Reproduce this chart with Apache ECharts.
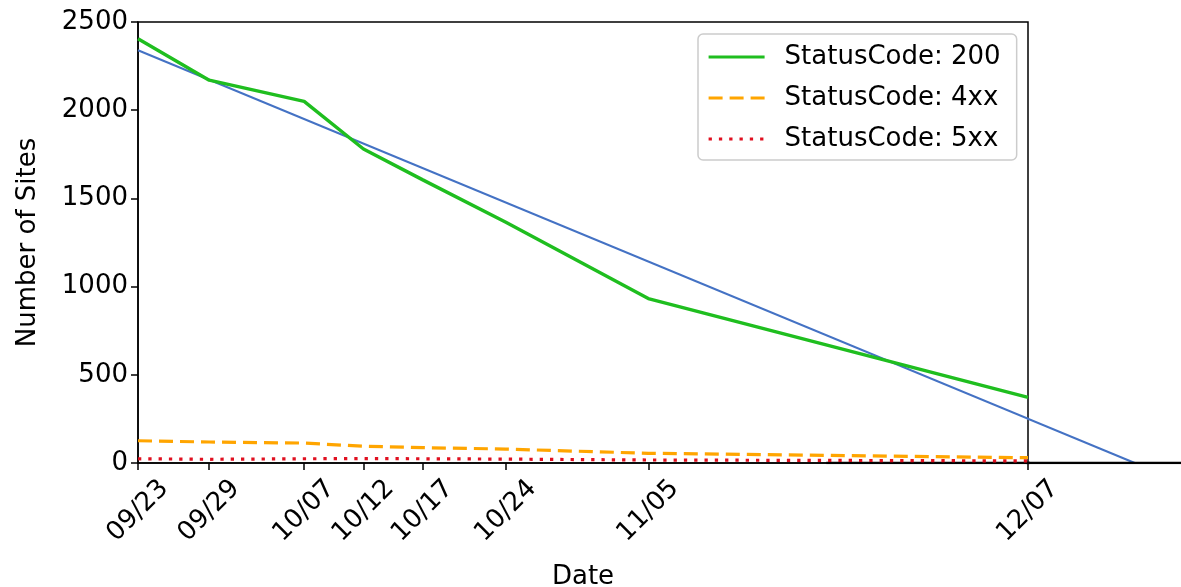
<!DOCTYPE html>
<html>
<head>
<meta charset="utf-8">
<script src="https://cdn.jsdelivr.net/npm/echarts@6/dist/echarts.min.js"></script>
<style>html,body{margin:0;padding:0;background:#fff;}#c{width:1181px;height:587px;}</style>
</head>
<body>
<div id="c"></div>
<script>
// ---- data ----
const dates = ['09/23', '09/29', '10/07', '10/12', '10/17', '10/24', '11/05', '12/07'];
const tickDates = ['09/23', '09/29', '10/07', '10/12', '10/17', '10/24', '11/05', '12/07'];
const status200 = [2405, 2170, 2050, 1780, 1605, 1365, 932, 372];
const status4xx = [126, 119, 113, 95, 87, 79, 55, 30];
const status5xx = [24, 21, 24, 25, 24, 22, 17, 12];
const trendDates = ['09/23', '12/16'];
const trendValues = [2340, 0];
const baseDates = ['11/20', '12/31'];
const baseValues = [0, 0];
const seriesNames = ['StatusCode: 200', 'StatusCode: 4xx', 'StatusCode: 5xx'];

// ---- helpers ----
const YEAR = 2023;
function toDay(s) {
  const [m, d] = s.split('/').map(Number);
  return (Date.UTC(YEAR, m - 1, d) - Date.UTC(YEAR, 8, 23)) / 86400000;
}
const dayToLabel = {};
tickDates.forEach(t => { dayToLabel[toDay(t)] = t; });
const tickDays = tickDates.map(toDay);
function pairs(ds, vs) { return ds.map((d, i) => [toDay(d), vs[i]]); }

// layout
const W = 1181, H = 587;
const GL = 138, GR = 153, GT = 22, GB = 124;
const xMin = toDay(tickDates[0]);
const xMax = toDay(tickDates[tickDates.length - 1]);
const pxPerDay = (W - GL - GR) / (xMax - xMin);
const xMax2 = xMax + GR / pxPerDay;

const FONT = 'DejaVu Sans';
const FS = 26;
const chart = echarts.init(document.getElementById('c'), null, { renderer: 'canvas' });
chart.setOption({
  animation: false,
  backgroundColor: '#fff',
  textStyle: { fontFamily: FONT },
  grid: [
    {
      left: GL, right: GR, top: GT, bottom: GB,
      show: true, borderColor: '#000', borderWidth: 1.5,
      outerBoundsMode: 'none', containLabel: false
    },
    {
      left: W - GR, right: 0, top: GT, bottom: GB,
      show: false, outerBoundsMode: 'none', containLabel: false
    }
  ],
  legend: {
    data: seriesNames,
    orient: 'vertical',
    left: 698, top: 34,
    padding: [10, 16, 8, 9],
    itemWidth: 56, itemHeight: 14, itemGap: 15,
    backgroundColor: '#fff',
    borderColor: '#cccccc', borderWidth: 1.5, borderRadius: 5,
    itemStyle: { opacity: 0 },
    lineStyle: { width: 3.2 },
    textStyle: { fontFamily: FONT, fontSize: FS, color: '#000', padding: [0, 0, 0, 15] }
  },
  xAxis: [
    {
      type: 'value', gridIndex: 0,
      min: xMin, max: xMax,
      name: 'Date', nameLocation: 'middle', nameGap: 101,
      nameTextStyle: { fontFamily: FONT, fontSize: FS, color: '#000' },
      axisLine: { show: true, onZero: false, lineStyle: { color: '#000', width: 1.5 } },
      axisTick: { show: true, length: 7, lineStyle: { color: '#000', width: 1.5 }, customValues: tickDays },
      axisLabel: {
        fontFamily: FONT, fontSize: FS, color: '#000', rotate: 45, margin: 48,
        align: 'center', verticalAlign: 'middle',
        customValues: tickDays,
        formatter: v => dayToLabel[v] || ''
      },
      splitLine: { show: false }
    },
    {
      type: 'value', gridIndex: 1,
      min: xMax, max: xMax2, show: false
    }
  ],
  yAxis: [
    {
      type: 'value', gridIndex: 0,
      min: 0, max: 2500, interval: 500,
      name: 'Number of Sites', nameLocation: 'middle', nameGap: 97,
      nameTextStyle: { fontFamily: FONT, fontSize: FS, color: '#000' },
      axisLine: { show: true, lineStyle: { color: '#000', width: 1.5 } },
      axisTick: { show: true, length: 7, lineStyle: { color: '#000', width: 1.5 } },
      axisLabel: { fontFamily: FONT, fontSize: FS, color: '#000', margin: 10, formatter: v => String(v) },
      splitLine: { show: false }
    },
    {
      type: 'value', gridIndex: 1,
      min: 0, max: 2500, show: false
    }
  ],
  series: [
    {
      name: 'trend', type: 'line', data: pairs(trendDates, trendValues),
      xAxisIndex: 0, yAxisIndex: 0,
      symbol: 'none', z: 1,
      lineStyle: { color: '#4472c4', width: 2 }
    },
    {
      name: 'trend-ext', type: 'line', data: pairs(trendDates, trendValues),
      xAxisIndex: 1, yAxisIndex: 1,
      symbol: 'none', z: 1,
      lineStyle: { color: '#4472c4', width: 2 }
    },
    {
      name: 'baseline', type: 'line', data: pairs(baseDates, baseValues),
      xAxisIndex: 0, yAxisIndex: 0,
      symbol: 'none', z: 2,
      lineStyle: { color: '#000', width: 2.5 }
    },
    {
      name: 'baseline-ext', type: 'line', data: pairs(baseDates, baseValues),
      xAxisIndex: 1, yAxisIndex: 1,
      symbol: 'none', z: 2,
      lineStyle: { color: '#000', width: 2.5 }
    },
    {
      name: seriesNames[0], type: 'line', data: pairs(dates, status200),
      symbol: 'none', z: 3, itemStyle: { color: '#1fbe1f' },
      lineStyle: { color: '#1fbe1f', width: 3.4 }
    },
    {
      name: seriesNames[1], type: 'line', data: pairs(dates, status4xx),
      symbol: 'none', z: 3, itemStyle: { color: '#ffa500' },
      lineStyle: { color: '#ffa500', width: 3.2, type: [14, 7] }
    },
    {
      name: seriesNames[2], type: 'line', data: pairs(dates, status5xx),
      symbol: 'none', z: 3, itemStyle: { color: '#e01020' },
      lineStyle: { color: '#e01020', width: 3.2, type: [3.3, 7] }
    }
  ]
});
</script>
</body>
</html>
